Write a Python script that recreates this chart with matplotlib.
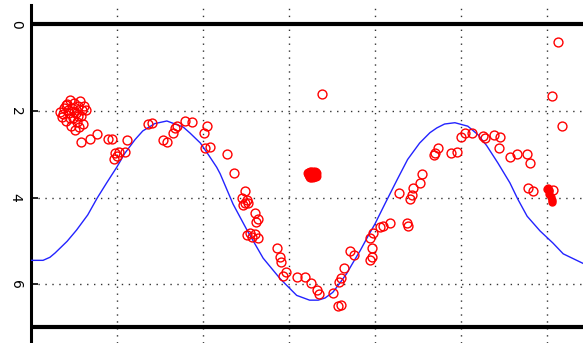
import numpy as np
import matplotlib
matplotlib.use('Agg')
import matplotlib.pyplot as plt

# blue model curve
curve_x = [0.0, 0.14, 0.22, 0.28, 0.42, 0.53, 0.66, 0.77, 0.88, 1.0, 1.09, 1.21, 1.30, 1.44,
           1.58, 1.77, 1.85, 1.97, 2.06, 2.16, 2.20, 2.35, 2.52, 2.70, 2.90, 3.01, 3.09, 3.24,
           3.34, 3.42, 3.51, 3.59, 3.67, 3.74, 3.83, 3.92, 4.0, 4.12, 4.26, 4.38, 4.52, 4.64,
           4.72, 4.81, 4.93, 5.08, 5.20, 5.30, 5.43, 5.57, 5.66, 5.77, 5.92, 6.07, 6.19, 6.42]
curve_y = [5.45, 5.45, 5.38, 5.28, 5.01, 4.75, 4.40, 4.01, 3.66, 3.29, 2.98, 2.66, 2.46, 2.29,
           2.23, 2.37, 2.51, 2.74, 3.00, 3.30, 3.45, 4.15, 4.78, 5.40, 5.88, 6.10, 6.26, 6.37,
           6.37, 6.32, 6.19, 5.98, 5.76, 5.52, 5.22, 4.89, 4.61, 4.13, 3.58, 3.12, 2.74, 2.50,
           2.39, 2.30, 2.27, 2.35, 2.55, 2.80, 3.20, 3.66, 4.03, 4.43, 4.77, 5.05, 5.30, 5.52]

# red observations: dense cluster on the left
cluster_x = [0.34, 0.36, 0.38, 0.41, 0.42, 0.44, 0.45, 0.47, 0.48, 0.49, 0.50, 0.51, 0.52, 0.53,
             0.55, 0.56, 0.57, 0.58, 0.59, 0.62, 0.60, 0.37, 0.43, 0.50, 0.45, 0.55, 0.41, 0.64]
cluster_y = [2.02, 2.14, 1.93, 2.23, 1.84, 2.05, 1.75, 2.35, 1.93, 2.16, 1.82, 2.44, 2.05, 2.25,
             1.88, 2.37, 1.77, 2.12, 1.98, 1.88, 2.30, 2.07, 1.98, 2.02, 2.16, 2.12, 1.86, 1.98]

# scattered observations
obs_x = [0.58, 0.69, 0.77, 0.90, 0.94, 1.12, 0.98, 1.00, 1.02, 0.97, 1.09, 1.36, 1.41, 1.53,
         1.58, 1.65, 1.67, 1.70, 1.79, 1.87, 2.01, 2.05, 2.02, 2.08, 2.28, 2.36, 2.49, 2.45,
         2.49, 2.52, 2.47, 2.51, 2.60, 2.64, 2.62, 2.51, 2.55, 2.60, 2.64, 2.57, 2.86, 2.90,
         2.91, 2.97, 2.93, 3.09, 3.19, 3.26, 3.33, 3.35, 3.51, 3.57, 3.60, 3.60, 3.58, 3.64,
         3.71, 3.76, 3.94, 3.98, 3.97, 3.97, 3.94, 4.06, 4.09, 4.17, 4.37, 4.38, 4.28, 4.41,
         4.43, 4.44, 4.53, 4.55, 4.70, 4.73, 4.69, 4.88, 4.95, 5.00, 5.05, 5.13, 5.26, 5.28,
         5.38, 5.45, 5.44, 5.57, 5.65, 5.77, 5.80, 5.78, 5.84, 6.07, 6.17, 6.13, 6.06, 3.38]
obs_y = [2.72, 2.65, 2.53, 2.65, 2.65, 2.67, 2.97, 3.04, 2.95, 3.11, 2.95, 2.30, 2.28, 2.67,
         2.72, 2.51, 2.39, 2.35, 2.23, 2.25, 2.51, 2.35, 2.86, 2.83, 2.99, 3.43, 3.85, 4.01,
         4.13, 4.13, 4.17, 4.06, 4.36, 4.50, 4.57, 4.87, 4.82, 4.84, 4.94, 4.91, 5.17, 5.38,
         5.49, 5.72, 5.82, 5.84, 5.84, 5.98, 6.14, 6.23, 6.21, 6.51, 6.49, 5.86, 5.95, 5.63,
         5.24, 5.33, 4.94, 4.82, 5.17, 5.38, 5.45, 4.68, 4.66, 4.59, 4.59, 4.66, 3.90, 4.03,
         3.94, 3.78, 3.66, 3.46, 2.97, 2.86, 3.02, 2.97, 2.95, 2.60, 2.51, 2.51, 2.58, 2.62,
         2.55, 2.60, 2.86, 3.06, 2.99, 2.99, 3.20, 3.78, 3.85, 3.83, 2.35, 0.40, 1.65, 1.61]

# solid blob in the middle
blob_x = [3.22, 3.24, 3.26, 3.28, 3.30, 3.32, 3.23, 3.25, 3.27, 3.29, 3.31, 3.24, 3.26, 3.28,
          3.30, 3.27]
blob_y = [3.43, 3.41, 3.40, 3.41, 3.42, 3.44, 3.48, 3.47, 3.46, 3.47, 3.49, 3.52, 3.53, 3.52,
          3.51, 3.44]

# short streak on the right
streak_x = [6.00, 6.01, 6.02, 6.03, 6.03, 6.05, 6.06, 6.06]
streak_y = [3.80, 3.78, 3.85, 3.83, 3.92, 3.99, 4.06, 4.10]

yticks = [0, 2, 4, 6]
xgrid = [1, 2, 3, 4, 5, 6]

fig = plt.figure(figsize=(5.83, 3.43), dpi=100)
ax = fig.add_axes([31 / 583, 0, 1 - 31 / 583, 338 / 343])
ax.set_xlim(0, 6.42)
ax.set_ylim(7.36, -0.45)

# dotted grid
for g in xgrid:
    ax.axvline(g, color='#333333', lw=1.0, linestyle=(0, (1, 4)), zorder=1)
for g in yticks[1:]:
    ax.axhline(g, color='#333333', lw=1.0, linestyle=(0, (1, 4)), zorder=1)

# thick bounding lines
ax.axhline(0, color='black', lw=3.0, zorder=2)
ax.axhline(7, color='black', lw=3.0, zorder=2)

ax.plot(curve_x, curve_y, color='#2323ff', lw=1.0, zorder=3)

mk = dict(linestyle='none', marker='o', ms=6.4, mfc='none', mec='red', mew=1.0, zorder=4)
ax.plot(cluster_x, cluster_y, **mk)
ax.plot(obs_x, obs_y, **mk)
ax.plot(blob_x, blob_y, linestyle='none', marker='o', ms=6.2, mfc='red', mec='red', zorder=4)
ax.plot(streak_x, streak_y, linestyle='none', marker='o', ms=5, mfc='red', mec='red', zorder=4)

ax.spines['top'].set_visible(False)
ax.spines['right'].set_visible(False)
ax.spines['bottom'].set_visible(False)
ax.spines['left'].set_linewidth(2.2)

ax.set_yticks(yticks)
ax.set_yticklabels([str(t) for t in yticks], rotation=270, va='center', fontsize=10)
ax.tick_params(axis='y', direction='in', length=5, width=1.2, pad=6)
ax.set_xticks([])

fig.savefig('out.png', dpi=100)
